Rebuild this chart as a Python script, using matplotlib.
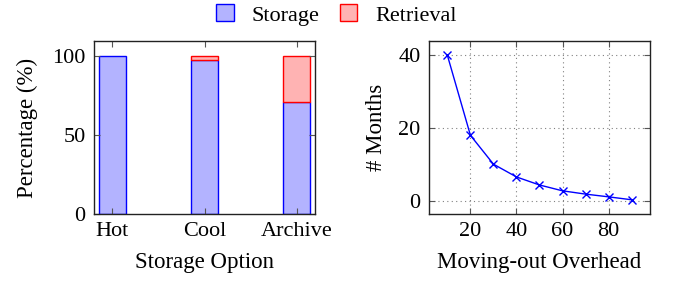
import numpy as np
import matplotlib
matplotlib.use("Agg")
import matplotlib.pyplot as plt
from matplotlib.patches import Patch

plt.rcParams['font.family'] = ['Liberation Serif', 'DejaVu Serif']
plt.rcParams['font.size'] = 16.5

# left panel data
options = ["Hot", "Cool", "Archive"]
storage = [100, 97.7, 71.0]
retrieval = [0, 2.3, 29.0]

# right panel data
overhead = [10, 20, 30, 40, 50, 60, 70, 80, 90]
months = [40, 18.1, 10.2, 6.7, 4.5, 2.9, 2.0, 1.25, 0.45]

blue_fill = "#b3b3ff"
red_fill = "#ffb3b3"

fig = plt.figure(figsize=(6.73, 2.82), dpi=100)
ax1 = fig.add_axes([94/673, 1 - 214/282, 221/673, 173/282])
ax2 = fig.add_axes([429/673, 1 - 214/282, 221/673, 173/282])

x = np.arange(len(options))
ax1.bar(x, storage, width=0.29, color=blue_fill, edgecolor="blue", linewidth=1)
red_edges = ["red" if r > 0 else "none" for r in retrieval]
ax1.bar(x, retrieval, width=0.29, bottom=storage, color=red_fill, edgecolor=red_edges, linewidth=1)
ax1.set_xlim(-0.2, 2.2)
ax1.set_ylim(0, 109.5)
ax1.set_xticks(x)
ax1.set_xticklabels(options)
ax1.set_yticks([0, 50, 100])
ax1.set_xlabel("Storage Option", labelpad=8)
ax1.set_ylabel("Percentage (%)", labelpad=10)

ax2.plot(overhead, months, color="blue", marker="x", markersize=6, linewidth=1)
ax2.set_xlim(2, 98)
ax2.set_ylim(-3.45, 43.95)
ax2.set_xticks([20, 40, 60, 80])
ax2.set_yticks([0, 20, 40])
ax2.grid(True, linestyle=(0, (1, 3)), color="gray", linewidth=0.8)
ax2.set_axisbelow(True)
ax2.set_xlabel("Moving-out Overhead", labelpad=8)
ax2.set_ylabel("# Months", labelpad=8)

for ax in (ax1, ax2):
    for s in ax.spines.values():
        s.set_color("#222222")
        s.set_linewidth(1)
    ax.tick_params(direction="in", top=True, right=True, length=4, width=0.8,
                   color="#555555", pad=6, labelsize=16)

handles = [Patch(facecolor=blue_fill, edgecolor="blue", label="Storage"),
           Patch(facecolor=red_fill, edgecolor="red", label="Retrieval")]
fig.legend(handles=handles, loc="center", bbox_to_anchor=(0.5, 1 - 15/282), ncol=2,
           frameon=False, handlelength=0.8, handleheight=0.8, columnspacing=0.9,
           handletextpad=0.8, fontsize=16)

fig.savefig("out.png", dpi=100)
